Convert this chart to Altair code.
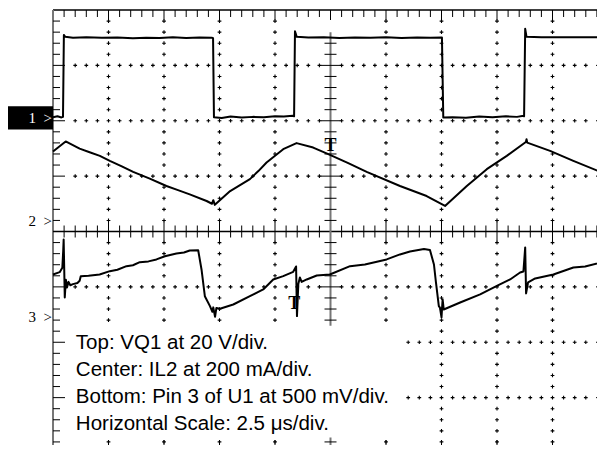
import altair as alt
import numpy as np
import pandas as pd

# ---------------- scope settings ----------------
US_PER_DIV = 2.5          # horizontal scale, µs per division
N_XDIV, N_YDIV = 10, 8    # graticule divisions
CH1_V_PER_DIV, CH1_REF = 20.0, 2.05     # VQ1, ground marker position (div)
CH2_MA_PER_DIV, CH2_REF = 200.0, 0.186  # IL2
CH3_V_PER_DIV, CH3_REF = 0.5, -1.55     # Pin 3 of U1

# ---------------- channel 1: VQ1 (V) ----------------
ch1_t = [0.00, 0.20, 0.38, 0.45, 0.49, 0.55, 0.90, 1.50, 2.20, 2.90,
         3.60, 4.20, 4.80, 5.40, 6.00, 6.60, 7.15, 7.21, 7.25, 7.60,
         8.00, 8.50, 9.00, 9.50, 10.00, 10.40, 10.80, 10.86, 10.90, 10.98,
         11.50, 12.20, 12.90, 13.60, 14.30, 15.00, 15.70, 16.40, 17.00, 17.52,
         17.58, 18.00, 18.60, 19.20, 19.80, 20.40, 20.90, 21.20, 21.22, 21.27,
         21.33, 22.00, 22.80, 23.60, 24.40, 25.00]
ch1_v = [0.3, 0.6, 0.2, 0.4, 30.0, 29.3, 29.0, 29.2, 29.0, 29.1,
         28.8, 29.0, 28.9, 29.2, 28.9, 29.1, 29.0, 28.8, 0.3, 0.0,
         0.5, 0.2, 0.4, 0.3, 0.6, 0.5, 0.8, 0.6, 31.3, 29.3,
         29.1, 29.2, 28.9, 29.1, 29.0, 29.2, 28.9, 29.1, 29.0, 29.1,
         0.2, 0.3, 0.1, 0.5, 0.3, 0.6, 0.4, 0.8, 0.6, 32.2,
         29.3, 29.2, 29.2, 29.2, 29.2, 29.2]

# ---------------- channel 2: IL2 (mA) ----------------
ch2_t = [0.00, 0.57, 1.20, 1.65, 2.11, 2.56, 3.10, 3.61, 4.36, 5.11,
         5.60, 6.16, 6.92, 7.16, 7.22, 7.29, 7.98, 8.87, 9.25, 9.62,
         10.37, 10.97, 11.72, 12.40, 13.30, 14.13, 15.63, 16.83, 17.66, 18.64,
         19.54, 20.44, 21.30, 21.33, 21.36, 22.39, 23.44, 24.72, 25.00]
ch2_ma = [252, 288, 262, 249, 236, 218, 198, 178, 154, 127,
          113, 97, 73, 63, 76, 59, 109, 152, 181, 212,
          260, 282, 266, 242, 210, 178, 127, 91, 55, 127,
          188, 236, 286, 296, 284, 254, 218, 176, 167]

# ---------------- channel 3: Pin 3 of U1 (V) ----------------
ch3_t = [0.00, 0.30, 0.42, 0.46, 0.48, 0.53, 0.58, 0.63, 0.70, 0.78,
         0.90, 1.10, 1.20, 1.25, 1.60, 2.10, 2.56, 2.90, 3.31, 3.60,
         3.91, 4.30, 4.66, 5.04, 5.56, 5.90, 6.16, 6.54, 6.69, 6.84,
         7.07, 7.18, 7.22, 7.30, 7.36, 7.52, 8.12, 8.87, 9.47, 9.92,
         10.37, 10.82, 10.95, 10.99, 11.05, 11.12, 11.20, 11.43, 11.88, 12.47,
         13.38, 14.05, 15.03, 15.63, 16.08, 16.71, 16.98, 17.16, 17.25, 17.38,
         17.43, 17.50, 17.55, 17.60, 18.34, 19.24, 20.04, 20.59, 21.04, 21.19,
         21.27, 21.31, 21.40, 21.72, 22.54, 23.44, 23.97, 24.90]
ch3_v = [0.387, 0.408, 0.448, 0.600, 0.703, 0.180, 0.340, 0.270, 0.320, 0.290,
         0.300, 0.310, 0.330, 0.370, 0.375, 0.387, 0.417, 0.430, 0.462, 0.470,
         0.498, 0.505, 0.523, 0.552, 0.577, 0.585, 0.604, 0.606, 0.432, 0.191,
         0.101, 0.050, 0.090, 0.005, 0.085, 0.078, 0.116, 0.191, 0.252, 0.342,
         0.372, 0.411, 0.459, 0.011, 0.300, 0.360, 0.320, 0.342, 0.378, 0.387,
         0.462, 0.477, 0.523, 0.568, 0.595, 0.617, 0.608, 0.477, 0.315, 0.101,
         0.087, 0.000, 0.162, 0.071, 0.134, 0.207, 0.288, 0.342, 0.405, 0.414,
         0.631, 0.216, 0.315, 0.351, 0.387, 0.450, 0.459, 0.507]

channel_labels = ["1\u2002>", "2\u2002>", "3\u2002>"]
channel_refs = [CH1_REF, CH2_REF, CH3_REF]
trigger_t = [12.5, 10.87]
trigger_div = [1.54, -1.31]
notes = ["Top: VQ1 at 20 V/div.",
         "Center: IL2 at 200 mA/div.",
         "Bottom: Pin 3 of U1 at 500 mV/div.",
         "Horizontal Scale: 2.5 \u03bcs/div."]

assert len(ch1_t) == len(ch1_v) and len(ch2_t) == len(ch2_ma) and len(ch3_t) == len(ch3_v)

# ---------------- traces (screen divisions) ----------------
frames = []
for name, t, vals, ref, scale in [("1", ch1_t, ch1_v, CH1_REF, CH1_V_PER_DIV),
                                  ("2", ch2_t, ch2_ma, CH2_REF, CH2_MA_PER_DIV),
                                  ("3", ch3_t, ch3_v, CH3_REF, CH3_V_PER_DIV)]:
    frames.append(pd.DataFrame({"t": t, "val": vals, "ch": name,
                                "y": [ref + v / scale for v in vals],
                                "i": range(len(t))}))
trace_df = pd.concat(frames, ignore_index=True)

# ---------------- graticule ----------------
W, H = 555, 443
PXX = N_XDIV / W   # one pixel in x divisions
PXY = N_YDIV / H   # one pixel in y divisions
TOP, BOT = N_YDIV / 2, -N_YDIV / 2
XC = N_XDIV / 2

segs = []
def add(x, x2, y, y2, c="#000000", w=1.0):
    segs.append(dict(x=x * US_PER_DIV, x2=x2 * US_PER_DIV, y=y, y2=y2, c=c, w=w))

xs = [round(v, 1) for v in np.arange(0.2, N_XDIV, 0.2)]
ys = [round(v, 1) for v in np.arange(BOT + 0.2, TOP, 0.2)]
isint = lambda v: abs(v - round(v)) < 1e-6

# border
add(0, N_XDIV, TOP, TOP, w=1.5)
add(0, N_XDIV, BOT, BOT, w=1.5)
add(0, 0, BOT, TOP, "#777777", 2)
add(N_XDIV, N_XDIV, BOT, TOP, "#777777", 2)
for x in xs:
    L = 10 if isint(x) else 7
    add(x, x, TOP, TOP - L * PXY)
    L = 13 if isint(x) else 8
    add(x, x, BOT, BOT + L * PXY)
for y in ys:
    L = 12 if isint(y) else 7
    add(0, L * PXX, y, y)
    add(N_XDIV - L * PXX, N_XDIV, y, y)
# centre horizontal axis
add(0, N_XDIV, 0, 0, w=1.5)
for x in xs:
    if abs(x - XC) < 1e-6:
        continue
    L = 10 if isint(x) else 6
    add(x, x, -L * PXY, L * PXY)
# centre vertical axis
add(XC, XC, -1.7, 3.6, "#777777", 2)
for y in ys:
    if -1.7 <= y <= 3.5 and abs(y) > 1e-6:
        L = 10 if isint(y) else 6
        add(XC - L * PXX, XC + L * PXX, y, y)
add(XC, XC, BOT, -3.72, "#777777", 2)
add(XC - 6 * PXX, XC + 6 * PXX, -3.8, -3.8)
seg_df = pd.DataFrame(segs)

pts = []
for x in [1, 2, 3, 4, 6, 7, 8, 9]:
    for y in ys:
        if not isint(y):
            pts.append((x, y))
for y in [-3, -2, -1, 1, 2, 3]:
    for x in [round(v, 1) for v in np.arange(0.4, N_XDIV - 0.3, 0.2)]:
        if abs(x - XC) > 1e-6:
            pts.append((x, y))
# blank area behind the caption
pts = [(x, y) for x, y in pts if not (0.06 <= x <= 6.35 and -3.78 <= y <= -1.70)]
pt_df = pd.DataFrame({"t": [p[0] * US_PER_DIV for p in pts], "y": [p[1] for p in pts]})

# ---------------- encodings ----------------
xs_ = alt.Scale(domain=[0, N_XDIV * US_PER_DIV], nice=False, zero=False)
ys_ = alt.Scale(domain=[BOT, TOP], nice=False, zero=False)

def X(f):
    return alt.X(f, type="quantitative", scale=xs_, axis=None)
def Y(f):
    return alt.Y(f, type="quantitative", scale=ys_, axis=None)

grid_pts = alt.Chart(pt_df).mark_point(
    shape="M-1,0L1,0M0,-1L0,1", size=14, filled=False, strokeWidth=1.1,
    color="black", opacity=1).encode(x=X("t"), y=Y("y"))

rules = alt.Chart(seg_df).mark_rule().encode(
    x=X("x"), x2="x2", y=Y("y"), y2="y2",
    color=alt.Color("c:N", scale=None),
    strokeWidth=alt.StrokeWidth("w:Q", scale=None))

traces = alt.Chart(trace_df).mark_line(color="black", strokeWidth=2, strokeJoin="round").encode(
    x=X("t"), y=Y("y"), detail="ch:N", order="i:Q")

lbl_df = pd.DataFrame({"label": channel_labels, "ref": channel_refs,
                       "fg": ["#ffffff", "#000000", "#000000"],
                       "t0": 0.0})
box_df = pd.DataFrame({"x0": [-2.13], "x1": [0.0],
                       "y0": [CH1_REF - 0.21], "y1": [CH1_REF + 0.21]})
box = alt.Chart(box_df).mark_rect(color="black").encode(
    x=X("x0"), x2="x1", y=Y("y0"), y2="y1")
labels = alt.Chart(lbl_df).mark_text(
    align="right", baseline="middle", font="Liberation Serif", fontSize=15, dx=-1).encode(
    x=X("t0"), y=Y("ref"), text="label:N", color=alt.Color("fg:N", scale=None))

trig_df = pd.DataFrame({"t": trigger_t, "y": trigger_div, "s": "T"})
trig = alt.Chart(trig_df).mark_text(
    font="Liberation Serif", fontWeight="bold", fontSize=18, align="center",
    baseline="middle", color="black").encode(x=X("t"), y=Y("y"), text="s:N")

note_df = pd.DataFrame({"t": [1.03], "y": [-2.13], "txt": [notes]})
note = alt.Chart(note_df).mark_text(
    align="left", baseline="alphabetic", font="Liberation Sans", fontSize=20.5,
    lineHeight=27, color="black").encode(x=X("t"), y=Y("y"), text="txt")

# plot area is the full 10x8 graticule; the svg is cut at the window edge
chart = alt.layer(grid_pts, rules, traces, box, labels, trig, note).properties(
    width=W, height=H,
    padding={"left": 45, "top": 2, "right": -11, "bottom": -8},
    autosize=alt.AutoSizeParams(type="none"),
).configure_view(stroke=None)

chart.save("out.html", embed_options={"renderer": "svg", "actions": False})
